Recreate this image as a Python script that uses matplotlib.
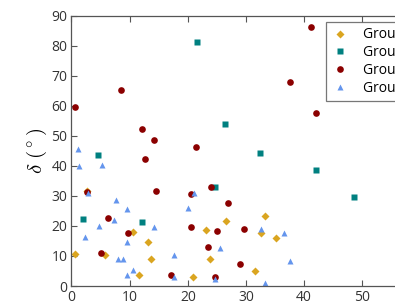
"""
plot.py -- scatter of delta vs angle for four groups (classic mpl look, cropped canvas).
"""
import matplotlib
matplotlib.use("Agg")
import matplotlib.pyplot as plt

# ---------------------------------------------------------------------------
# Data
# ---------------------------------------------------------------------------
group1_x = [2.7, 10.5, 13.2, 0.6, 5.7, 13.6, 11.6, 20.9, 33.2, 26.6, 23.2, 32.6, 35.1, 23.8, 31.5]
group1_y = [31.7, 17.9, 14.6, 10.5, 10.3, 9.0, 3.5, 3.0, 23.4, 21.7, 18.6, 17.8, 16.1, 9.1, 4.9]

group2_x = [21.6, 4.6, 26.4, 32.4, 1.9, 12.2, 42.1, 48.5, 24.7]
group2_y = [81.1, 43.5, 53.9, 44.2, 22.3, 21.3, 38.6, 29.7, 32.8]

group3_x = [0.6, 8.5, 12.2, 14.1, 21.4, 12.7, 41.2, 37.5, 42.0, 2.6, 14.6, 20.6,
            6.3, 9.8, 20.6, 5.1, 17.1, 24.0, 26.9, 25.1, 29.6, 23.5, 29.0, 24.6]
group3_y = [59.5, 65.2, 52.4, 48.6, 46.3, 42.4, 86.3, 67.8, 57.5, 31.2, 31.5, 30.6,
            22.5, 17.8, 19.7, 10.9, 3.7, 33.0, 27.7, 18.2, 19.0, 12.9, 7.4, 3.1]

group4_x = [1.2, 1.3, 5.2, 2.9, 7.7, 9.6, 7.3, 4.8, 14.2, 2.3, 9.6, 17.7, 8.0, 8.9,
            10.5, 9.6, 17.6, 20.0, 21.1, 32.5, 36.6, 25.6, 37.6, 24.7, 33.2]
group4_y = [45.6, 40.0, 40.4, 30.8, 28.5, 25.6, 21.9, 19.9, 19.6, 16.4, 14.7, 10.4, 9.0, 9.0,
            5.3, 3.5, 3.1, 26.1, 31.0, 19.0, 17.5, 12.5, 8.3, 2.2, 1.0]

labels = ["Group 1", "Group 2", "Group 3", "Group 4"]

# ---------------------------------------------------------------------------
plt.rcParams["font.family"] = ["Open Sans", "DejaVu Sans"]
plt.rcParams["mathtext.fontset"] = "cm"

fig = plt.figure(figsize=(3.95, 3.07), dpi=100)
# axes deliberately runs past the right edge, as in the reference crop
ax = fig.add_axes([0.181, 0.0684, 0.8835, 0.8805])

ms = 4.5
ax.plot(group1_x, group1_y, "D", color="#DAA520", ms=ms, mec="none", label=labels[0])
ax.plot(group2_x, group2_y, "s", color="#008080", ms=ms, mec="none", label=labels[1])
ax.plot(group3_x, group3_y, "o", color="#8B0000", ms=ms + 0.3, mec="none", label=labels[2])
ax.plot(group4_x, group4_y, "^", color="#6495ED", ms=ms + 0.5, mec="none", label=labels[3])

ax.set_xlim(0, 60)
ax.set_ylim(0, 90)
ax.set_xticks([0, 10, 20, 30, 40, 50, 60])
ax.set_yticks(range(0, 100, 10))

ax.tick_params(direction="in", top=True, right=True, length=4, width=0.8,
               labelsize=10, labelcolor="#333333", color="#555555", pad=3)
for sp in ax.spines.values():
    sp.set_color("#555555")
    sp.set_linewidth(0.9)

ax.set_ylabel(r"$\delta\ (^\circ)$", fontsize=15, labelpad=2)
ax.set_xlabel(r"$\phi\ (^\circ)$", fontsize=15, labelpad=2)

leg = ax.legend(loc="upper left", bbox_to_anchor=(0.729, 0.977), numpoints=1,
                fontsize=10, frameon=True, fancybox=False, handlelength=1.2,
                borderpad=0.4, labelspacing=0.2, handletextpad=1.1, borderaxespad=0)
leg.get_frame().set_edgecolor("#555555")
leg.get_frame().set_linewidth(0.9)

fig.savefig("out.png", dpi=100)
